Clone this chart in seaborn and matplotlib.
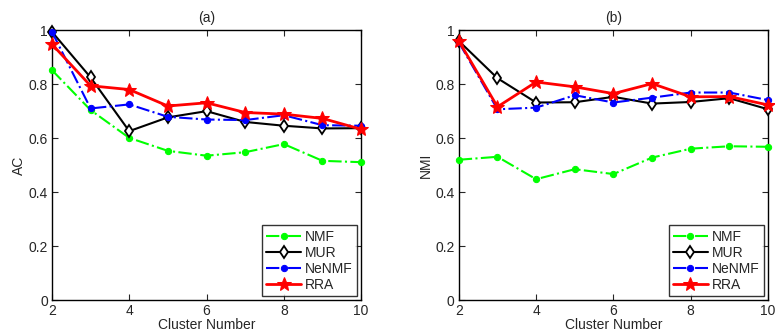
import numpy as np
import pandas as pd
import matplotlib
matplotlib.use("Agg")
import matplotlib.pyplot as plt
import seaborn as sns

clusters = [2, 3, 4, 5, 6, 7, 8, 9, 10]
methods = ["NMF", "MUR", "NeNMF", "RRA"]

# AC values, panel (a)
ac_nmf = [0.852, 0.704, 0.601, 0.553, 0.535, 0.548, 0.578, 0.516, 0.511]
ac_mur = [0.994, 0.825, 0.626, 0.677, 0.700, 0.660, 0.646, 0.636, 0.637]
ac_nenmf = [0.994, 0.710, 0.725, 0.679, 0.669, 0.667, 0.685, 0.648, 0.646]
ac_rra = [0.948, 0.794, 0.780, 0.719, 0.731, 0.695, 0.689, 0.673, 0.633]

# NMI values, panel (b)
nmi_nmf = [0.520, 0.531, 0.448, 0.485, 0.467, 0.528, 0.561, 0.570, 0.568]
nmi_mur = [0.960, 0.822, 0.732, 0.733, 0.753, 0.728, 0.734, 0.748, 0.707]
nmi_nenmf = [0.955, 0.707, 0.713, 0.759, 0.732, 0.750, 0.769, 0.769, 0.741]
nmi_rra = [0.960, 0.716, 0.808, 0.790, 0.765, 0.802, 0.753, 0.754, 0.723]

styles = {
    "NMF": dict(color=(0, 1, 0), linestyle="-.", marker="o", markersize=4.5,
                markerfacecolor=(0, 1, 0), markeredgecolor=(0, 1, 0), linewidth=1.5),
    "MUR": dict(color="black", linestyle="-", marker="d", markersize=6.5,
                markerfacecolor="white", markeredgecolor="black", markeredgewidth=1.3, linewidth=1.5),
    "NeNMF": dict(color="blue", linestyle="-.", marker="o", markersize=4.5,
                  markerfacecolor="blue", markeredgecolor="blue", linewidth=1.5),
    "RRA": dict(color="red", linestyle="-", marker="*", markersize=10,
                markerfacecolor="red", markeredgecolor="red", linewidth=2),
}


def long_table(series):
    rows = []
    for name, vals in zip(methods, series):
        for c, v in zip(clusters, vals):
            rows.append({"Cluster Number": c, "value": v, "method": name})
    return pd.DataFrame(rows)


df_ac = long_table([ac_nmf, ac_mur, ac_nenmf, ac_rra])
df_nmi = long_table([nmi_nmf, nmi_mur, nmi_nenmf, nmi_rra])

sns.set_style("ticks")
plt.rcParams["font.family"] = ["Liberation Sans", "DejaVu Sans"]
plt.rcParams["xtick.direction"] = "in"
plt.rcParams["ytick.direction"] = "in"

fig = plt.figure(figsize=(7.75, 3.35), dpi=100)
ax1 = fig.add_axes([0.067, 0.104, 0.399, 0.806])
ax2 = fig.add_axes([0.592, 0.104, 0.399, 0.806])

for ax, df, ylab, title in [(ax1, df_ac, "AC", "(a)"), (ax2, df_nmi, "NMI", "(b)")]:
    for name in methods:
        sub = df[df["method"] == name]
        sns.lineplot(data=sub, x="Cluster Number", y="value", ax=ax, label=name,
                     clip_on=False, zorder=3, **styles[name])
    ax.set_xlim(2, 10)
    ax.set_ylim(0, 1)
    ax.set_xticks([2, 4, 6, 8, 10])
    ax.set_yticks([0, 0.2, 0.4, 0.6, 0.8, 1])
    ax.set_yticklabels(["0", "0.2", "0.4", "0.6", "0.8", "1"])
    ax.tick_params(top=True, right=True, labelsize=10, length=4, width=0.8, pad=3)
    for sp in ax.spines.values():
        sp.set_visible(True)
        sp.set_linewidth(1)
        sp.set_color("black")
    ax.set_xlabel("Cluster Number", fontsize=10, labelpad=0)
    ax.set_ylabel(ylab, fontsize=10, labelpad=2)
    ax.set_title(title, fontsize=10, pad=6)
    leg = ax.legend(loc="lower right", fontsize=10, frameon=True, fancybox=False,
                    borderaxespad=0.3, handlelength=2.5, handletextpad=0.3,
                    labelspacing=0.15, borderpad=0.3)
    leg.get_frame().set_edgecolor("black")
    leg.get_frame().set_linewidth(1)

fig.savefig("out.png", dpi=100)
